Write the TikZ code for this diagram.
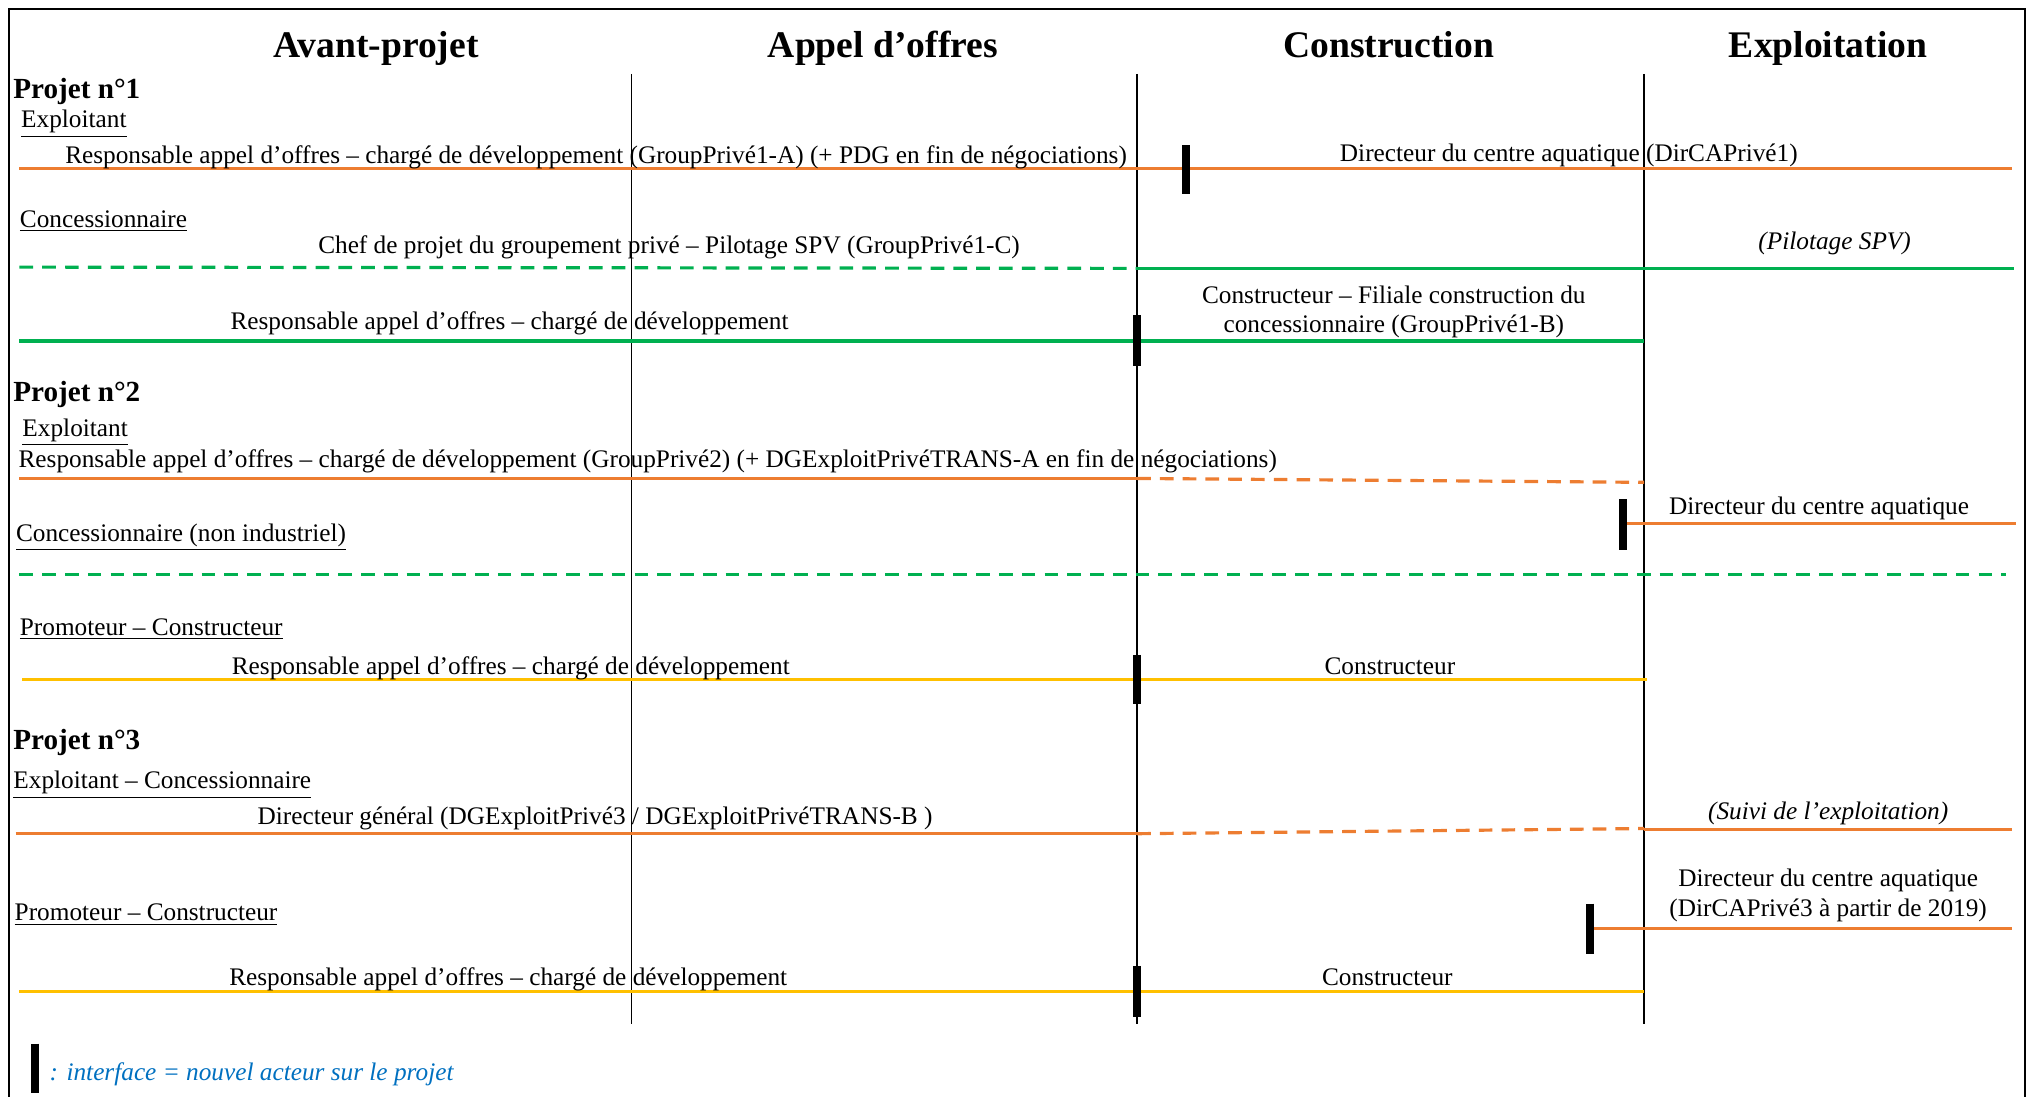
\documentclass[tikz,border=0pt]{standalone}
\usepackage{fontspec}
\setmainfont{Liberation Serif}
\usetikzlibrary{positioning}
\definecolor{exporange}{RGB}{237,125,49}
\definecolor{concgreen}{RGB}{0,176,80}
\definecolor{promyellow}{RGB}{255,192,0}
\definecolor{legendblue}{RGB}{0,112,192}

\begin{document}
\begin{tikzpicture}[
        x=0.02cm, y=-0.02cm,
        phase/.style={anchor=base, inner sep=0pt, font=\fontsize{16.5}{19}\selectfont\bfseries},
        projet/.style={anchor=west, inner sep=0pt, yshift=-0.05cm, font=\fontsize{12.8}{15}\selectfont\bfseries},
        role/.style={anchor=west, inner sep=0pt, yshift=-0.05cm, font=\fontsize{11.1}{13}\selectfont},
        actor/.style={inner sep=0pt, yshift=-0.05cm, align=center, font=\fontsize{11.1}{13}\selectfont},
        note/.style={inner sep=0pt, yshift=-0.05cm, align=center, font=\fontsize{11.1}{13}\selectfont\itshape},
        exline/.style={exporange, line width=1.4pt},
        coline/.style={concgreen, line width=1.4pt},
        prline/.style={promyellow, line width=1.4pt},
        tentative/.style={dash pattern=on 6pt off 4pt},
        bar/.style={black, line width=3.5pt},
        sep/.style={black, line width=0.75pt}
    ]
        \useasboundingbox (0,0) rectangle (1568,846);
        \draw[line width=0.8pt] (7,846) -- (7,7) -- (1562,7) -- (1562,846);

        % Phases
        \node[phase] (avant) at (290,44) {Avant-projet};
        \node[phase] (appel) at (681,44) {Appel d’offres};
        \node[phase] (constr) at (1071,44) {Construction};
        \node[phase] (exploit) at (1410,44) {Exploitation};
        \foreach \x in {487,877,1268}
            \draw[sep] (\x,57) -- (\x,790);

        % Projet 1
        \node[projet] (p1) at (10,68) {Projet n°1};
        \node[role] (p1ex) at (16,93) {\underline{Exploitant}};
        \draw[exline] (15,130) -- (1552,130);
        \node[role] (p1exa) at (50,119) {Responsable appel d’offres – chargé de développement (GroupPrivé1-A) (+ PDG en fin de négociations)};
        \node[actor] (p1exb) at (1210,117) {Directeur du centre aquatique (DirCAPrivé1)};
        \draw[bar] (915,112) -- (915,150);

        \node[role] (p1co) at (15,168) {\underline{Concessionnaire}};
        \draw[coline, tentative] (15,206) -- (877,207);
        \draw[coline] (877,207) -- (1553,207);
        \node[actor] (p1coa) at (516,188) {Chef de projet du groupement privé – Pilotage SPV (GroupPrivé1-C)};
        \node[note] (p1cob) at (1415,185) {(Pilotage SPV)};
        \draw[coline] (15,263) -- (1268,263);
        \node[actor] (p1cc) at (393,247) {Responsable appel d’offres – chargé de développement};
        \node[actor] (p1cd) at (1075,238) {Constructeur – Filiale construction du\\concessionnaire (GroupPrivé1-B)};
        \draw[bar] (877,243) -- (877,282);

        % Projet 2
        \node[projet] (p2) at (10,302) {Projet n°2};
        \node[role] (p2ex) at (17,331) {\underline{Exploitant}};
        \draw[exline] (15,369) -- (877,369);
        \draw[exline, tentative] (877,369) -- (1268,372);
        \node[role] (p2exa) at (14,353) {Responsable appel d’offres – chargé de développement (GroupPrivé2) (+ DGExploitPrivéTRANS-A en fin de négociations)};
        \draw[exline] (1252,404) -- (1555,404);
        \draw[bar] (1252,385) -- (1252,424);
        \node[actor] (p2exb) at (1403,390) {Directeur du centre aquatique};

        \node[role] (p2co) at (12,412) {\underline{Concessionnaire (non industriel)}};
        \draw[coline, tentative] (15,443) -- (1547,443);

        \node[role] (p2pr) at (15,483) {\underline{Promoteur – Constructeur}};
        \draw[prline] (17,524) -- (1270,524);
        \node[actor] (p2pra) at (394,513) {Responsable appel d’offres – chargé de développement};
        \node[actor] (p2prb) at (1072,511) {Constructeur};
        \draw[bar] (877,505) -- (877,543);

        % Projet 3
        \node[projet] (p3) at (10,570) {Projet n°3};
        \node[role] (p3ex) at (10,603) {\underline{Exploitant – Concessionnaire}};
        \draw[exline] (12,643) -- (877,643);
        \draw[exline, tentative] (877,643) -- (1268,639);
        \draw[exline] (1268,640) -- (1552,640);
        \node[actor] (p3exa) at (459,629) {Directeur général (DGExploitPrivé3 / DGExploitPrivéTRANS-B )};
        \node[note] (p3exb) at (1410,625) {(Suivi de l’exploitation)};
        \draw[exline] (1226,716) -- (1552,716);
        \draw[bar] (1226,697) -- (1226,736);
        \node[actor] (p3exc) at (1410,688) {Directeur du centre aquatique\\(DirCAPrivé3 à partir de 2019)};

        \node[role] (p3pr) at (11,703) {\underline{Promoteur – Constructeur}};
        \draw[prline] (15,765) -- (1268,765);
        \node[actor] (p3pra) at (392,753) {Responsable appel d’offres – chargé de développement};
        \node[actor] (p3prb) at (1070,751) {Constructeur};
        \draw[bar] (877,745) -- (877,784);

        % Legende
        \draw[bar] (27,805) -- (27,843);
        \node[role, legendblue, font=\fontsize{11.1}{13}\selectfont\itshape] (leg) at (38,826) {: interface = nouvel acteur sur le projet};
    \end{tikzpicture}
\end{document}
